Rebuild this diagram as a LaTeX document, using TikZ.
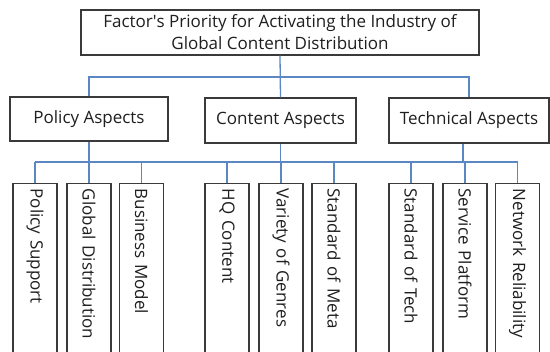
\documentclass[tikz,border=0pt]{standalone}
\usepackage{fontspec}
\setmainfont{Open Sans}
\definecolor{linkblue}{HTML}{5B87C2}
\definecolor{boxline}{HTML}{3A3A3A}

\begin{document}
\begin{tikzpicture}
  [x=1pt,y=-1pt,every node/.style={draw=boxline,line width=1.3pt,fill=white,
     text=black!88,font=\fontsize{17}{22}\selectfont}]
  \tikzstyle{link} = [draw=linkblue,line width=1.3pt]
  \tikzstyle{aspect} = [minimum width=158pt,minimum height=44pt,inner sep=0pt]
  \tikzstyle{leaf} = [rotate=-90,anchor=west,minimum height=44pt,
     text width=182pt,align=left,inner xsep=5pt,inner ysep=0pt]
  \useasboundingbox (0,0) rectangle (550,352);

  % root and the three aspects
  \node[minimum width=398pt,minimum height=45pt,align=center,inner sep=0pt] (top) at (280,32.5)
    {Factor\textquotesingle s Priority for Activating the Industry of\\Global Content Distribution};
  \node[aspect] (pol) at (89,119) {Policy Aspects};
  \node[aspect,minimum width=151pt,minimum height=45pt] (con) at (280.5,120.5) {Content Aspects};
  \node[aspect,minimum width=160pt,minimum height=45pt] (tec) at (469,120.5) {Technical Aspects};

  % factors, written top to bottom
  \foreach \name/\x/\txt in {p1/35/Policy Support,p2/89/Global Distribution,p3/141.5/Business Model,
      c1/227/HQ Content,c2/281/Variety of Genres,c3/334/Standard of Meta,
      t1/411/Standard of Tech,t2/465/Service Platform,t3/517.5/Network Reliability}
    \node[leaf] (\name) at (\x,183) {\txt};

  \coordinate (upbus) at (280,77);
  \coordinate (lowbus) at (280,162);

  % upper bus
  \draw[link] (top.south) -- (con.north);
  \draw[link] (pol.north) -- (pol.north |- upbus) -- (tec.north |- upbus) -- (tec.north);

  % lower bus
  \draw[link] (pol.south) -- (pol.south |- lowbus);
  \draw[link] (con.south) -- (con.south |- lowbus);
  \draw[link] ([xshift=-6pt]tec.south) -- ([xshift=-6pt]tec.south |- lowbus);
  \draw[link] (p1.west |- lowbus) -- (t3.west |- lowbus);
  \foreach \name in {p1,p2,p3,c1,c2,c3,t1,t2,t3}
    \draw[link] (\name.west |- lowbus) -- (\name.west);
\end{tikzpicture}
\end{document}
